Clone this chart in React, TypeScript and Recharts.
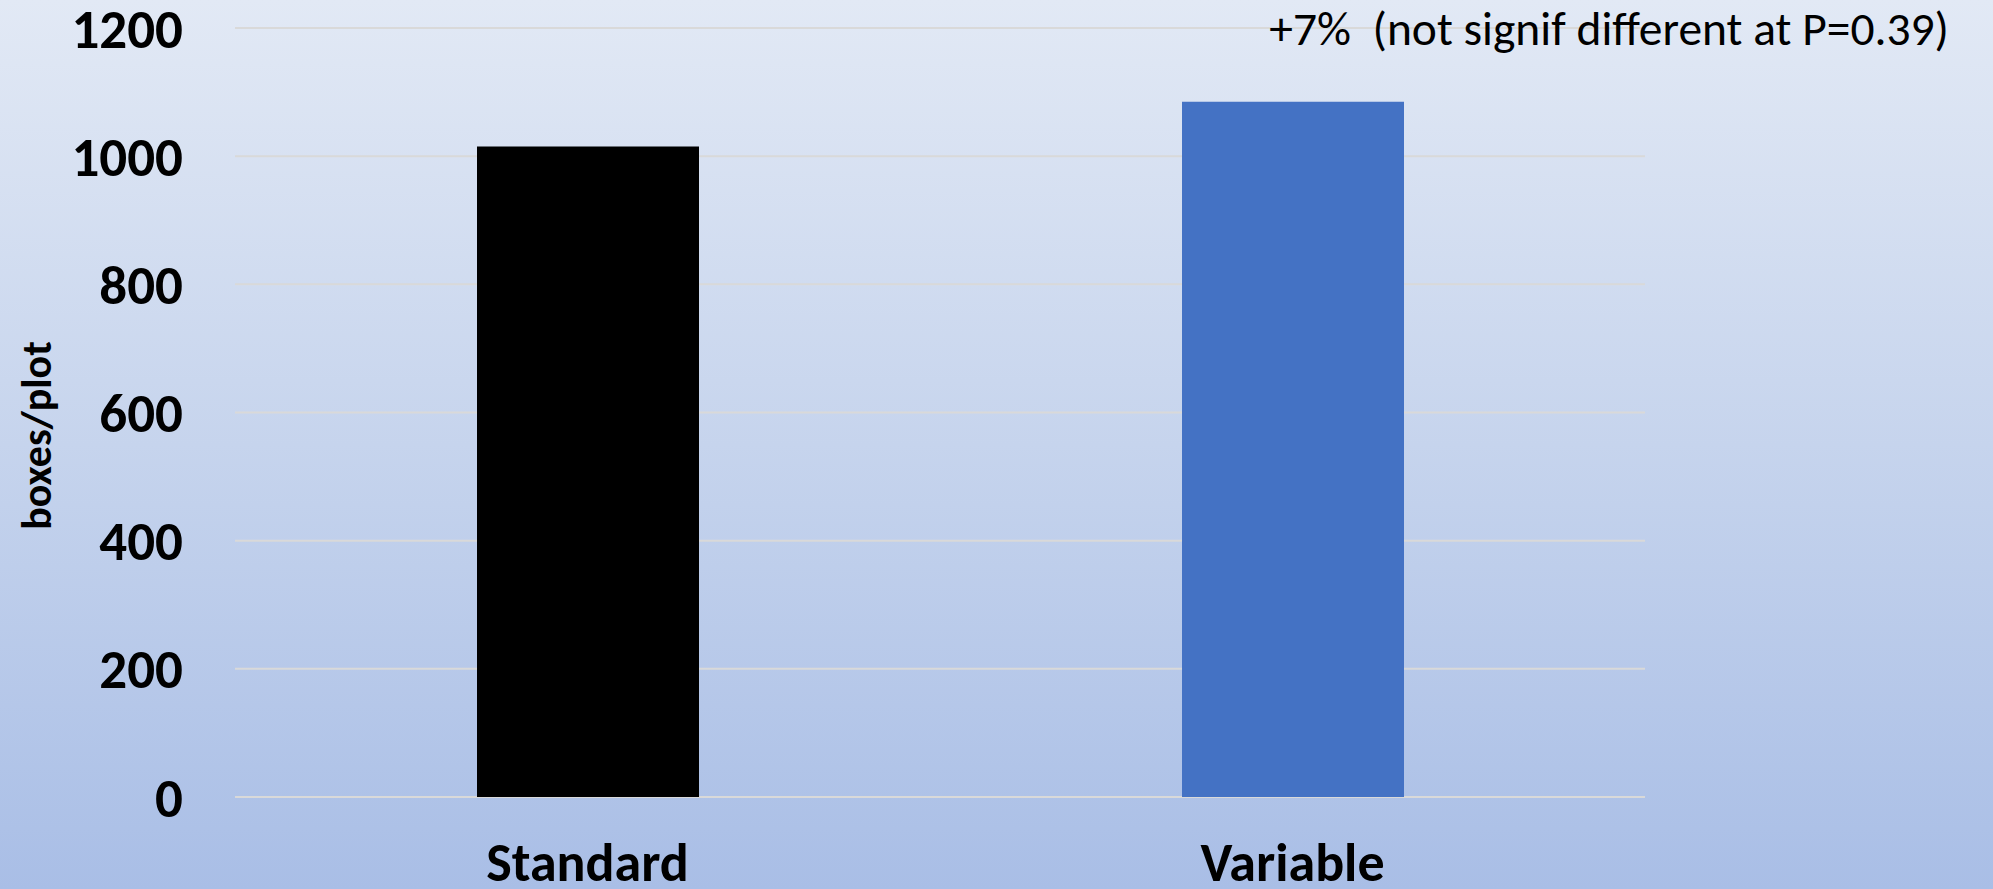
import React from "react";
import { BarChart, Bar, XAxis, YAxis, CartesianGrid, Cell, Label, Customized } from "recharts";

// Boxes harvested per plot under the two treatments
const categories = ["Standard", "Variable"];
const boxesPerPlot = [1015, 1085];
const barColors = ["#000000", "#4472C4"];
const yTicks = [0, 200, 400, 600, 800, 1000, 1200];
const yAxisTitle = "boxes/plot";
const note = "+7%\u00A0\u00A0(not signif different at P=0.39)";

const data = categories.map((name, i) => ({ name, value: boxesPerPlot[i] }));

const W = 1993;
const H = 889;
const FONT = "Carlito, 'Open Sans', sans-serif";

const AxisTitle = (props: any) => {
  const vb = props.viewBox || {};
  const cx = 36;
  const cy = vb.y + vb.height / 2 + 23;
  return (
    <text
      x={cx}
      y={cy}
      transform={`rotate(-90, ${cx}, ${cy})`}
      textAnchor="middle"
      dominantBaseline="central"
      fontFamily={FONT}
      fontWeight={700}
      fontSize={42}
      fill="#000"
    >
      {yAxisTitle}
    </text>
  );
};

const Note = () => (
  <text x={1949} y={45} textAnchor="end" fontFamily={FONT} fontSize={47.5} fill="#000">
    {note}
  </text>
);

export default function App() {
  return (
    <div
      style={{
        position: "absolute",
        left: 0,
        top: 0,
        width: W,
        height: H,
        background: "linear-gradient(to bottom, #e2e9f5 0%, #c6d4ed 50%, #a9bee6 100%)",
      }}
    >
      <BarChart
        width={W}
        height={H}
        data={data}
        margin={{ top: 28, right: 348, bottom: 0, left: 0 }}
      >
        <CartesianGrid horizontal vertical={false} stroke="#d9d9d9" strokeWidth={2} />
        <XAxis
          dataKey="name"
          axisLine={false}
          tickLine={false}
          height={92}
          tickMargin={40}
          tick={{ fill: "#000", fontSize: 54, fontWeight: 700, fontFamily: FONT }}
        />
        <YAxis
          domain={[0, 1200]}
          ticks={yTicks}
          interval={0}
          axisLine={false}
          tickLine={false}
          width={235}
          tickMargin={46}
          tick={{ fill: "#000", fontSize: 55, fontWeight: 700, fontFamily: FONT }}
        >
          <Label content={<AxisTitle />} />
        </YAxis>
        <Bar dataKey="value" barSize={222} isAnimationActive={false}>
          {data.map((d, i) => (
            <Cell key={d.name} fill={barColors[i]} />
          ))}
        </Bar>
        <Customized component={<Note />} />
      </BarChart>
    </div>
  );
}
